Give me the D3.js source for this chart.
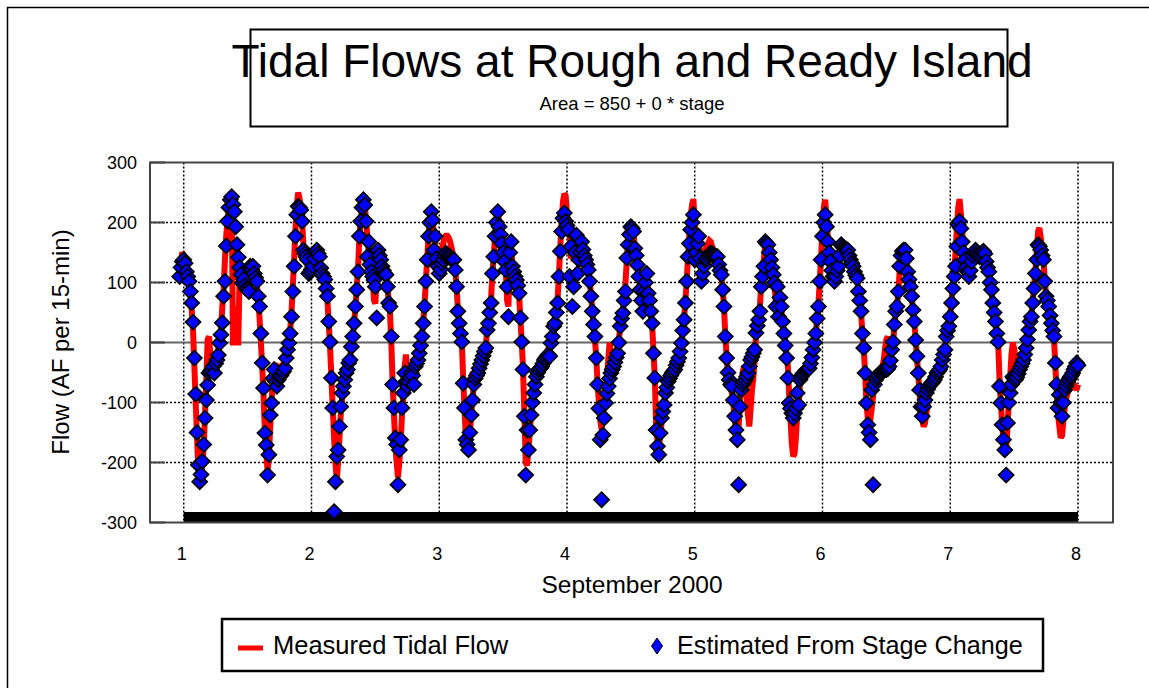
<!DOCTYPE html>
<html><head><meta charset="utf-8">
<script src="https://cdn.jsdelivr.net/npm/d3@7"></script>
<style>body{margin:0;background:#fff}svg{display:block}text{font-family:"Liberation Sans",Arial,sans-serif;fill:#000}</style>
</head><body><svg id="c" width="1149" height="688"></svg>
<script>
const titleText = "Tidal Flows at Rough and Ready Island";
const subtitleText = "Area = 850 + 0 * stage";
const xAxisTitle = "September 2000";
const yAxisTitle = "Flow (AF per 15-min)";
const seriesNames = ["Measured Tidal Flow", "Estimated From Stage Change"];
const xTicks = [1, 2, 3, 4, 5, 6, 7, 8];
const yTicks = [-300, -200, -100, 0, 100, 200, 300];
const startDay = 1 - 3 / 96;   // first 15-min reading
const stepDays = 1 / 96;       // 15-minute interval
const bandDays = [1, 8];
const bandValue = -300;

const measured = [
120,140,150,145,
140,125,110,95,80,55,20,-40,-100,-160,-210,-234,-225,-200,-175,
-120,-60,5,10,-20,-45,-15,-35,-30,-20,-10,0,20,60,90,140,180,205,225,240,245,0,0,60,0,0,
115,100,130,110,95,90,95,110,125,120,125,115,105,95,75,40,0,-40,-90,-150,-180,-215,-190,-140,-100,
-60,-40,-35,-45,-50,-45,-40,-38,-35,-30,-20,-10,0,20,50,95,140,190,230,250,240,225,200,
160,150,145,140,125,120,125,130,140,150,155,150,140,125,115,110,100,90,70,30,-10,-60,-110,-160,-200,-230,-200,-160,
-120,-95,-80,-65,-55,-45,-35,-25,-5,10,30,60,90,125,175,205,225,240,230,205,
175,150,135,120,110,70,65,110,145,140,130,125,120,115,110,95,70,50,0,-70,-120,-170,-200,-225,-200,-170,-120,-90,
-40,-20,-50,-60,-45,-40,-45,-50,-35,-30,-25,-15,-5,10,35,65,105,140,180,205,220,210,
175,160,145,135,130,140,155,165,175,178,178,175,170,160,150,140,120,95,55,35,15,0,
-60,-110,-160,-175,-180,-155,-120,-95,-70,-60,-55,-50,-40,-33,-25,-18,-10,-5,20,35,55,75,115,145,180,205,220,200,180,165,
150,135,120,70,60,140,160,130,120,110,105,95,80,40,0,-45,-120,-200,-205,-180,-150,-120,-100,-85,-70,-55,
-45,-40,-38,-35,-30,-25,-20,-15,-10,-5,0,10,25,35,55,75,115,160,200,235,248,245,215,195,
185,140,190,135,160,180,150,150,165,170,160,150,140,130,120,105,80,55,30,5,-25,-70,-100,-130,-145,-120,-100,-85,
-60,-30,0,-20,-35,-40,-30,-20,-10,5,25,40,55,75,100,140,165,180,195,190,180,160,145,130,110,90,70,60,
80,95,110,85,70,50,30,-15,-60,-140,-165,-170,-160,-135,-115,-100,-85,-75,-65,-58,-52,-48,-45,-42,-36,-30,-22,-12,0,
20,40,70,105,145,180,210,230,239,200,175,160,170,145,120,130,140,155,160,165,170,168,160,155,150,145,140,130,120,110,
90,60,10,-25,-50,-65,-75,-85,-100,-125,-150,-165,-140,-100,-70,-50,-40,-60,-90,-120,-140,-110,-80,-60,-30,10,25,40,60,100,120,140,165,165,160,
150,135,120,105,95,65,85,50,70,55,35,20,0,-20,-40,-90,-130,-170,-190,-185,-160,-120,-110,-70,-60,-55,-52,-50,-47,-45,-43,
-35,-25,-12,0,15,40,65,105,145,190,225,238,210,175,150,135,120,110,105,115,125,135,150,160,158,156,155,155,154,148,140,132,127,118,112,105,85,70,50,
15,-10,-50,-100,-125,-130,-128,-110,-90,-70,-60,-55,-50,-48,-45,-40,-30,-10,5,10,-10,-20,-10,0,25,50,60,85,120,140,150,152,150,140,118,105,90,75,
55,35,5,-25,-55,-85,-110,-130,-140,-135,-120,-100,-85,-75,-70,-66,-62,-57,-51,-48,-45,-40,-30,-20,-12,10,20,30,45,70,95,120,150,190,225,239,
215,185,160,145,130,120,115,125,140,148,152,155,152,148,145,148,150,150,145,135,125,115,100,85,65,50,35,15,0,
-60,-100,-135,-160,-175,-180,-140,-100,-60,-20,0,-10,-30,-45,-45,-40,-38,-33,-27,-20,-10,5,20,35,45,70,95,120,150,185,
191,175,155,140,105,80,70,60,45,30,20,5,-40,-80,-120,-140,-159,-155,-130,-110,-95,-85,-80,-75,-70,-65,-70,-75,-79,-70
];

const estimated = [
110,125,135,138,
132,118,110,102,85,66,34,-26,-86,-150,-204,-232,-220,-198,-170,
-126,-96,-71,-51,-48,-46,-40,-51,-35,-29,-21,-1,13,33,77,102,161,202,225,238,243,230,218,193,163,142,
125,113,99,105,95,90,88,85,127,122,127,115,108,102,77,60,15,-34,-76,-151,-171,-221,-187,-121,-101,
-60,-45,-65,-73,-62,-57,-55,-51,-48,-43,-26,-12,-1,15,43,85,127,177,213,227,225,221,202,
154,148,143,138,115,118,122,127,140,150,154,148,143,124,115,110,105,90,77,35,1,-59,-109,-282,-232,-190,-179,-140,
-107,-84,-73,-62,-51,-45,-34,-29,-7,10,32,60,88,118,177,202,225,238,229,202,
143,168,130,118,110,104,93,41,154,145,138,127,120,115,113,93,66,60,10,-70,-109,-159,-170,-237,-179,-162,-109,-84,
-51,-65,-73,-65,-58,-51,-55,-70,-40,-35,-29,-18,-5,10,32,60,102,138,177,200,218,204,
154,177,140,127,115,122,132,138,145,149,146,143,143,140,138,138,121,93,52,32,15,1,
-68,-109,-162,-170,-179,-150,-121,-96,-70,-60,-55,-51,-43,-36,-29,-22,-15,-9,21,32,50,66,115,143,177,200,218,193,180,165,
150,135,121,93,43,150,168,127,118,110,104,95,82,41,1,-45,-123,-221,-146,-179,-146,-121,-100,-84,-70,-57,
-50,-45,-43,-40,-35,-29,-26,-23,-20,-23,-1,10,27,32,50,66,110,152,185,207,216,202,195,188,
110,160,60,93,150,179,115,138,150,168,155,145,138,130,121,102,77,52,30,10,-26,-70,-110,-162,-262,-154,-126,-101,
-85,-73,-60,-51,-45,-40,-33,-25,-18,0,27,40,49,70,85,141,163,180,193,190,185,157,145,129,110,88,70,52,
85,100,115,82,70,52,32,-18,-59,-146,-173,-187,-151,-126,-115,-104,-84,-75,-65,-60,-55,-51,-48,-45,-38,-32,-26,-15,-1,
20,38,66,102,143,165,188,200,213,138,150,165,177,140,102,115,127,138,140,144,147,149,148,146,145,143,143,130,120,113,
88,60,10,-26,-50,-62,-70,-73,-96,-123,-146,-162,-237,-107,-79,-70,-66,-62,-57,-51,-40,-29,-24,-18,-12,16,28,38,52,93,110,127,168,165,163,
150,138,125,113,100,60,93,43,75,60,35,15,-5,-26,-59,-101,-110,-118,-126,-118,-110,-84,-104,-62,-57,-53,-51,-48,-46,-44,-43,
-35,-25,-12,0,15,40,60,102,138,177,200,213,193,168,150,135,120,110,102,110,120,127,145,163,160,158,156,155,154,145,138,132,127,118,112,107,85,70,52,
15,-9,-51,-101,-137,-150,-162,-79,-237,-70,-62,-58,-55,-51,-50,-48,-46,-45,-45,-44,-40,-30,-12,1,30,52,60,85,127,145,152,154,154,140,118,105,93,77,
54,35,4,-23,-51,-79,-107,-123,-107,-96,-84,-78,-73,-70,-68,-66,-62,-57,-51,-48,-45,-40,-29,-20,-12,10,20,27,43,66,90,110,127,160,196,202,
190,168,150,138,125,118,110,120,135,145,150,154,150,147,143,146,150,152,148,135,125,118,100,88,66,50,35,15,1,
-73,-101,-137,-162,-179,-221,-134,-100,-84,-70,-57,-60,-62,-58,-52,-45,-40,-35,-29,-20,-9,5,21,35,43,66,90,115,138,163,
160,154,145,138,102,77,70,60,45,32,20,10,-34,-70,-109,-87,-100,-123,-100,-79,-72,-66,-62,-58,-55,-51,-45,-40,-34,-38
];

const svg = d3.select("#c");
const plot = {left: 150, right: 1113, top: 162.5, bottom: 522.5};
const x = d3.scaleLinear().domain([0.736, 8.274]).range([plot.left, plot.right]);
const y = d3.scaleLinear().domain([-300, 300]).range([plot.bottom, plot.top]);
const dayOf = i => startDay + i * stepDays;

// outer frame (only top/left edges visible)
svg.append("path").attr("d", "M7.5,700 L7.5,7.5 L1160,7.5").attr("fill", "none").attr("stroke", "#000").attr("stroke-width", 1.5);

// title box
svg.append("rect").attr("x", 250.5).attr("y", 29.5).attr("width", 757).attr("height", 97)
  .attr("fill", "#fff").attr("stroke", "#000").attr("stroke-width", 2);
svg.append("text").attr("x", 632).attr("y", 77).attr("text-anchor", "middle")
  .style("font-size", "46px").text(titleText);
svg.append("text").attr("x", 632).attr("y", 110).attr("text-anchor", "middle")
  .style("font-size", "18.5px").text(subtitleText);

// clip
svg.append("clipPath").attr("id", "pc").append("rect")
  .attr("x", plot.left).attr("y", plot.top).attr("width", plot.right - plot.left).attr("height", plot.bottom - plot.top);

const g = svg.append("g");
// grid
g.selectAll("line.vg").data(xTicks).join("line")
  .attr("x1", d => x(d)).attr("x2", d => x(d)).attr("y1", plot.top).attr("y2", plot.bottom)
  .attr("stroke", "#000").attr("stroke-width", 1.5).attr("stroke-dasharray", "2,2");
g.selectAll("line.hg").data(yTicks.filter(v => v !== 0 && Math.abs(v) !== 300)).join("line")
  .attr("x1", plot.left).attr("x2", plot.right).attr("y1", d => y(d)).attr("y2", d => y(d))
  .attr("stroke", "#000").attr("stroke-width", 1.5).attr("stroke-dasharray", "2,2");
g.append("line").attr("x1", plot.left).attr("x2", plot.right).attr("y1", y(0)).attr("y2", y(0))
  .attr("stroke", "#666").attr("stroke-width", 2);

const clipped = svg.append("g").attr("clip-path", "url(#pc)");
// bottom band series
clipped.append("path").datum(bandDays)
  .attr("d", d3.line().x(d => x(d)).y(() => y(bandValue)))
  .attr("stroke", "#000").attr("stroke-width", 21).attr("fill", "none");

// measured line
clipped.append("path").datum(measured)
  .attr("d", d3.line().x((d, i) => x(dayOf(i))).y(d => y(d)))
  .attr("fill", "none").attr("stroke", "#ff0000").attr("stroke-width", 6).attr("stroke-linejoin", "miter").attr("stroke-miterlimit", 2);

// estimated diamonds
const dia = "M0,-7.5L7.5,0L0,7.5L-7.5,0Z";
clipped.selectAll("path.pt").data(estimated).join("path")
  .attr("class", "pt")
  .attr("transform", (d, i) => `translate(${x(dayOf(i))},${y(d)})`)
  .attr("d", dia).attr("fill", "#0000ff").attr("stroke", "#000").attr("stroke-width", 1.7);

// border
svg.append("rect").attr("x", plot.left).attr("y", plot.top).attr("width", plot.right - plot.left).attr("height", plot.bottom - plot.top)
  .attr("fill", "none").attr("stroke", "#444").attr("stroke-width", 2);
// y ticks (inward)
svg.selectAll("line.yt").data(yTicks).join("line")
  .attr("x1", plot.left).attr("x2", plot.left + 15).attr("y1", d => y(d)).attr("y2", d => y(d))
  .attr("stroke", "#444").attr("stroke-width", 2);

// tick labels
svg.selectAll("text.yl").data(yTicks).join("text")
  .attr("x", 137).attr("y", d => y(d) + 6.5).attr("text-anchor", "end")
  .style("font-size", "18px").text(d => d);
svg.selectAll("text.xl").data(xTicks).join("text")
  .attr("x", d => x(d) - 2).attr("y", 560).attr("text-anchor", "middle")
  .style("font-size", "18px").text(d => d);
svg.append("text").attr("x", 632).attr("y", 593).attr("text-anchor", "middle")
  .style("font-size", "24.5px").text(xAxisTitle);
svg.append("text").attr("transform", "translate(69,342) rotate(-90)").attr("text-anchor", "middle")
  .style("font-size", "24px").text(yAxisTitle);

// legend
svg.append("rect").attr("x", 222).attr("y", 619).attr("width", 821).attr("height", 52)
  .attr("fill", "#fff").attr("stroke", "#000").attr("stroke-width", 2.5);
svg.append("line").attr("x1", 238).attr("x2", 263).attr("y1", 648).attr("y2", 648)
  .attr("stroke", "#ff0000").attr("stroke-width", 5);
svg.append("text").attr("x", 273).attr("y", 654).style("font-size", "25.5px").text(seriesNames[0]);
svg.append("path").attr("transform", "translate(657,646)").attr("d", "M0,-8L5.5,0L0,8L-5.5,0Z")
  .attr("fill", "#0000ff").attr("stroke", "#000").attr("stroke-width", 1);
svg.append("text").attr("x", 677).attr("y", 654).style("font-size", "25.2px").text(seriesNames[1]);
</script></body></html>
